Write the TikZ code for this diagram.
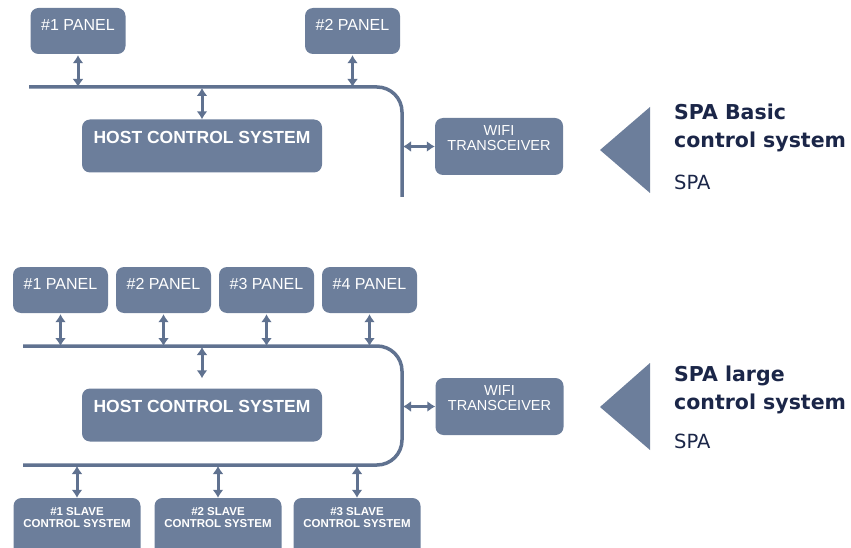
\documentclass[tikz,border=0pt]{standalone}
\usepackage{fontspec}
\setmainfont{Liberation Sans}
\newfontfamily\headfont{DejaVu Sans}
\usetikzlibrary{arrows.meta,calc,positioning}
\definecolor{spablue}{RGB}{108,126,155}
\definecolor{spaline}{RGB}{96,114,144}
\definecolor{spanavy}{RGB}{27,38,72}
\tikzset{
	box/.style={fill=spablue,rounded corners=8pt,text=white,anchor=center,inner sep=0pt},
	panel/.style={box,minimum width=95pt,minimum height=46pt,font=\fontsize{16}{19}\selectfont,text depth=13pt},
	host/.style={box,minimum width=240pt,minimum height=53pt,font=\bfseries\fontsize{17.5}{21}\selectfont,text depth=17pt},
	wifi/.style={box,minimum width=128pt,minimum height=57pt,align=center,font=\fontsize{14.5}{15}\selectfont,text depth=16pt},
	slave/.style={box,minimum width=127pt,minimum height=60pt,align=center,font=\bfseries\fontsize{11.5}{12}\selectfont,text depth=21pt},
	bus/.style={draw=spaline,line width=3.5pt,rounded corners=25pt},
	bidir/.style={draw=spaline,line width=3pt,shorten <=1pt,{Latex[length=8pt,width=11pt]}-{Latex[length=8pt,width=11pt]}},
	heading/.style={anchor=base west,align=left,text=spanavy,inner sep=0pt,font=\headfont\bfseries\fontsize{20.5}{28}\selectfont},
	subheading/.style={anchor=base west,text=spanavy,inner sep=0pt,font=\headfont\fontsize{19.5}{22}\selectfont},
}
\begin{document}
\begin{tikzpicture}[x=1pt,y=-1pt]
	\useasboundingbox (0,0) rectangle (851,548);
	\clip (0,0) rectangle (851,548);
	
	% basic control system
	\node (BPANEL1) at (78,31) [panel] {\#1 PANEL};
	\node (BPANEL2) at (352.5,31) [panel] {\#2 PANEL};
	\node (BHOST) at (202,146) [host] {HOST CONTROL SYSTEM};
	\node (BWIFI) at (499,146.5) [wifi] {WIFI\\TRANSCEIVER};
	
	\coordinate (BSTART) at (29,87);
	\coordinate (BCORNER) at (402,87);
	\coordinate (BEND) at (402,197);
	\draw[bus] (BSTART) -- (BCORNER) -- (BEND);
	
	\draw[bidir] (BPANEL1.south) -- (BPANEL1.south |- BCORNER);
	\draw[bidir] (BPANEL2.south) -- (BPANEL2.south |- BCORNER);
	\draw[bidir] (BHOST.north |- BCORNER) -- (BHOST.north);
	\draw[bidir] (BCORNER |- BWIFI.west) -- (BWIFI.west);
	
	\fill[spablue] (600,150) -- (650,107) -- (650,193) -- cycle;
	\node (BTITLE) at (674,148) [heading] {SPA Basic\\control system};
	\node (BSPA) at (674,190) [subheading] {SPA};
	
	% large control system
	\foreach \i in {1,...,4}
		\node (LPANEL\i) at ({60.5+103*(\i-1)},290) [panel] {\#\i\ PANEL};
	\node (LHOST) at (202,415) [host] {HOST CONTROL SYSTEM};
	\node (LWIFI) at (499.5,406.5) [wifi] {WIFI\\TRANSCEIVER};
	\foreach \i/\x in {1/77,2/218,3/357}
		\node (SLAVE\i) at (\x,528) [slave] {\#\i\ SLAVE\\CONTROL SYSTEM};
	
	\coordinate (LSTART) at (23,346);
	\coordinate (LCORNER) at (402,346);
	\coordinate (LCORNERLOW) at (402,465);
	\coordinate (LEND) at (23,465);
	\draw[bus] (LSTART) -- (LCORNER) -- (LCORNERLOW) -- (LEND);
	
	\foreach \i in {1,...,4}
		\draw[bidir] (LPANEL\i.south) -- (LPANEL\i.south |- LCORNER);
	\draw[bidir] (LHOST.north |- LCORNER) -- ($(LHOST.north)+(0,-10)$);
	\draw[bidir] (LCORNER |- LWIFI.west) -- (LWIFI.west);
	\foreach \i in {1,...,3}
		\draw[bidir] (SLAVE\i.north |- LCORNERLOW) -- (SLAVE\i.north);
	
	\fill[spablue] (600,407) -- (650,363) -- (650,450) -- cycle;
	\node (LTITLE) at (674,409) [heading] {SPA large\\control system};
	\node (LSPA) at (674,448) [subheading] {SPA};
\end{tikzpicture}
\end{document}
